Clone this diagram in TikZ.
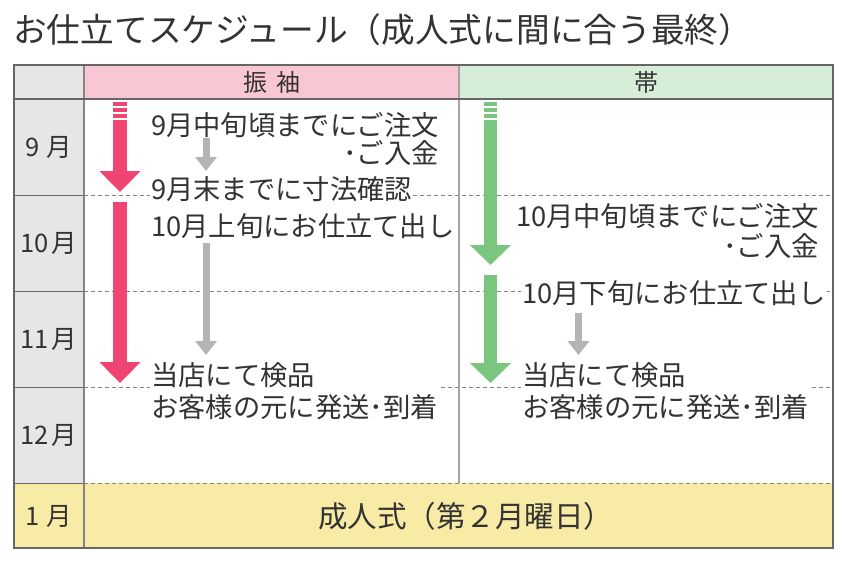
\documentclass[tikz,border=0pt]{standalone}
\usepackage{fontspec}
\setmainfont{Noto Sans CJK JP}
\usepackage{tikz}
\usetikzlibrary{arrows.meta,positioning}
\definecolor{txt}{HTML}{333333}
\definecolor{frame}{HTML}{666666}
\definecolor{pinkhead}{HTML}{F9C7D3}
\definecolor{greenhead}{HTML}{D6EDD7}
\definecolor{monthbg}{HTML}{E6E6E6}
\definecolor{ceremony}{HTML}{F7EBA6}
\definecolor{pinkarr}{HTML}{EE4572}
\definecolor{greenarr}{HTML}{7BC67F}
\definecolor{grayarr}{HTML}{B4B4B4}
\tikzset{
    note/.style={fill=white,inner sep=1pt,text=txt,font=\fontsize{27.3}{32}\selectfont,align=left},
    month/.style={text=txt,font=\fontsize{25.5}{30}\selectfont},
    colhead/.style={text=txt,font=\fontsize{24}{30}\selectfont},
    rowline/.style={draw=frame!80,dash pattern=on 4pt off 3pt,line width=0.8pt},
    pinkarrow/.style={pinkarr,line width=14pt,-{Triangle[width=40pt,length=21pt]}},
    greenarrow/.style={greenarr,line width=13pt,-{Triangle[width=40pt,length=20pt]}},
    grayarrow/.style={grayarr,line width=7pt,-{Triangle[width=21pt,length=14pt]}},
}

\begin{document}
\begin{tikzpicture}[x=1pt,y=-1pt]
\useasboundingbox (0,0) rectangle (850,575);
% title
\node[anchor=west,text=txt,inner sep=0pt,font=\fontsize{33.7}{36}\selectfont] (title) at (13,30) {お仕立てスケジュール（成人式に間に合う最終）};
% cells
\fill[monthbg] (14,65) rectangle (84,483);
\fill[pinkhead] (84,65) rectangle (459,99);
\fill[greenhead] (459,65) rectangle (833,99);
\fill[ceremony] (14,483) rectangle (833,548);
% rows
\foreach \y in {195,291,387,483} {
  \draw[rowline] (84,\y) -- (833,\y);
  \draw[frame,line width=1pt] (14,\y) -- (84,\y);
}
\draw[frame!60,line width=1.2pt] (459,65) -- (459,483);
\draw[frame!80,line width=1.2pt] (84,65) -- (84,548);
\draw[frame,line width=1.2pt] (14,99) -- (833,99);
\draw[frame,line width=1.5pt] (14,65) rectangle (833,548);
% headers and months
\node[colhead] (furisode) at (272,82) {振\hspace{9pt}袖};
\node[colhead] (obi) at (646,82) {帯};
\node[month] (m9) at (48.5,147) {9\hspace{7pt}月};
\node[month] (m10) at (49,243) {10\hspace{3pt}月};
\node[month] (m11) at (49,339) {11\hspace{3pt}月};
\node[month] (m12) at (49,435) {12\hspace{3pt}月};
\node[month] (m1) at (48.5,516) {1\hspace{7pt}月};
\node[text=txt,font=\fontsize{29.5}{32}\selectfont] (seijin) at (465.5,516) {成人式（第２月曜日）};
% big arrows
\foreach \y in {102,108,114} {
  \fill[pinkarr] (113,\y) rectangle (127,\y+4);
  \fill[greenarr] (484,\y) rectangle (497,\y+4);
}
\coordinate (pa) at (120,120);
\coordinate (pb) at (120,192);
\coordinate (pc) at (120,202);
\coordinate (pd) at (120,383);
\coordinate (ga) at (490.5,120);
\coordinate (gb) at (490.5,265);
\coordinate (gc) at (490.5,275);
\coordinate (gd) at (490.5,383);
\draw[pinkarrow] (pa) -- (pb);
\draw[pinkarrow] (pc) -- (pd);
\draw[greenarrow] (ga) -- (gb);
\draw[greenarrow] (gc) -- (gd);
% furisode notes
\node[note,anchor=base west] (n1) at (150,135) {9月中旬頃までにご注文};
\node[note,anchor=base east] (n2) at (440,163) {･ご入金};
\node[note,anchor=base west] (n3) at (150,199) {9月末までに寸法確認};
\node[note,anchor=base west] (n4) at (150,236) {10月上旬にお仕立て出し};
\node[note,anchor=base west] (n5) at (150,417) {当店にて検品\\お客様の元に発送･到着};
\coordinate (sa) at (206,138);
\coordinate (sb) at (206,171);
\coordinate (sc) at (206,243);
\coordinate (sd) at (206,355);
\draw[grayarrow] (sa) -- (sb);
\draw[grayarrow] (sc) -- (sd);
% obi notes
\node[note,anchor=base east] (o1) at (820,226) {10月中旬頃までにご注文};
\node[note,anchor=base east] (o2) at (820,256) {･ご入金};
\node[note,anchor=base west] (o3) at (521,303) {10月下旬にお仕立て出し};
\node[note,anchor=base west] (o4) at (521,417) {当店にて検品\\お客様の元に発送･到着};
\coordinate (se) at (578.5,313);
\coordinate (sf) at (578.5,355);
\draw[grayarrow] (se) -- (sf);
\end{tikzpicture}
\end{document}
